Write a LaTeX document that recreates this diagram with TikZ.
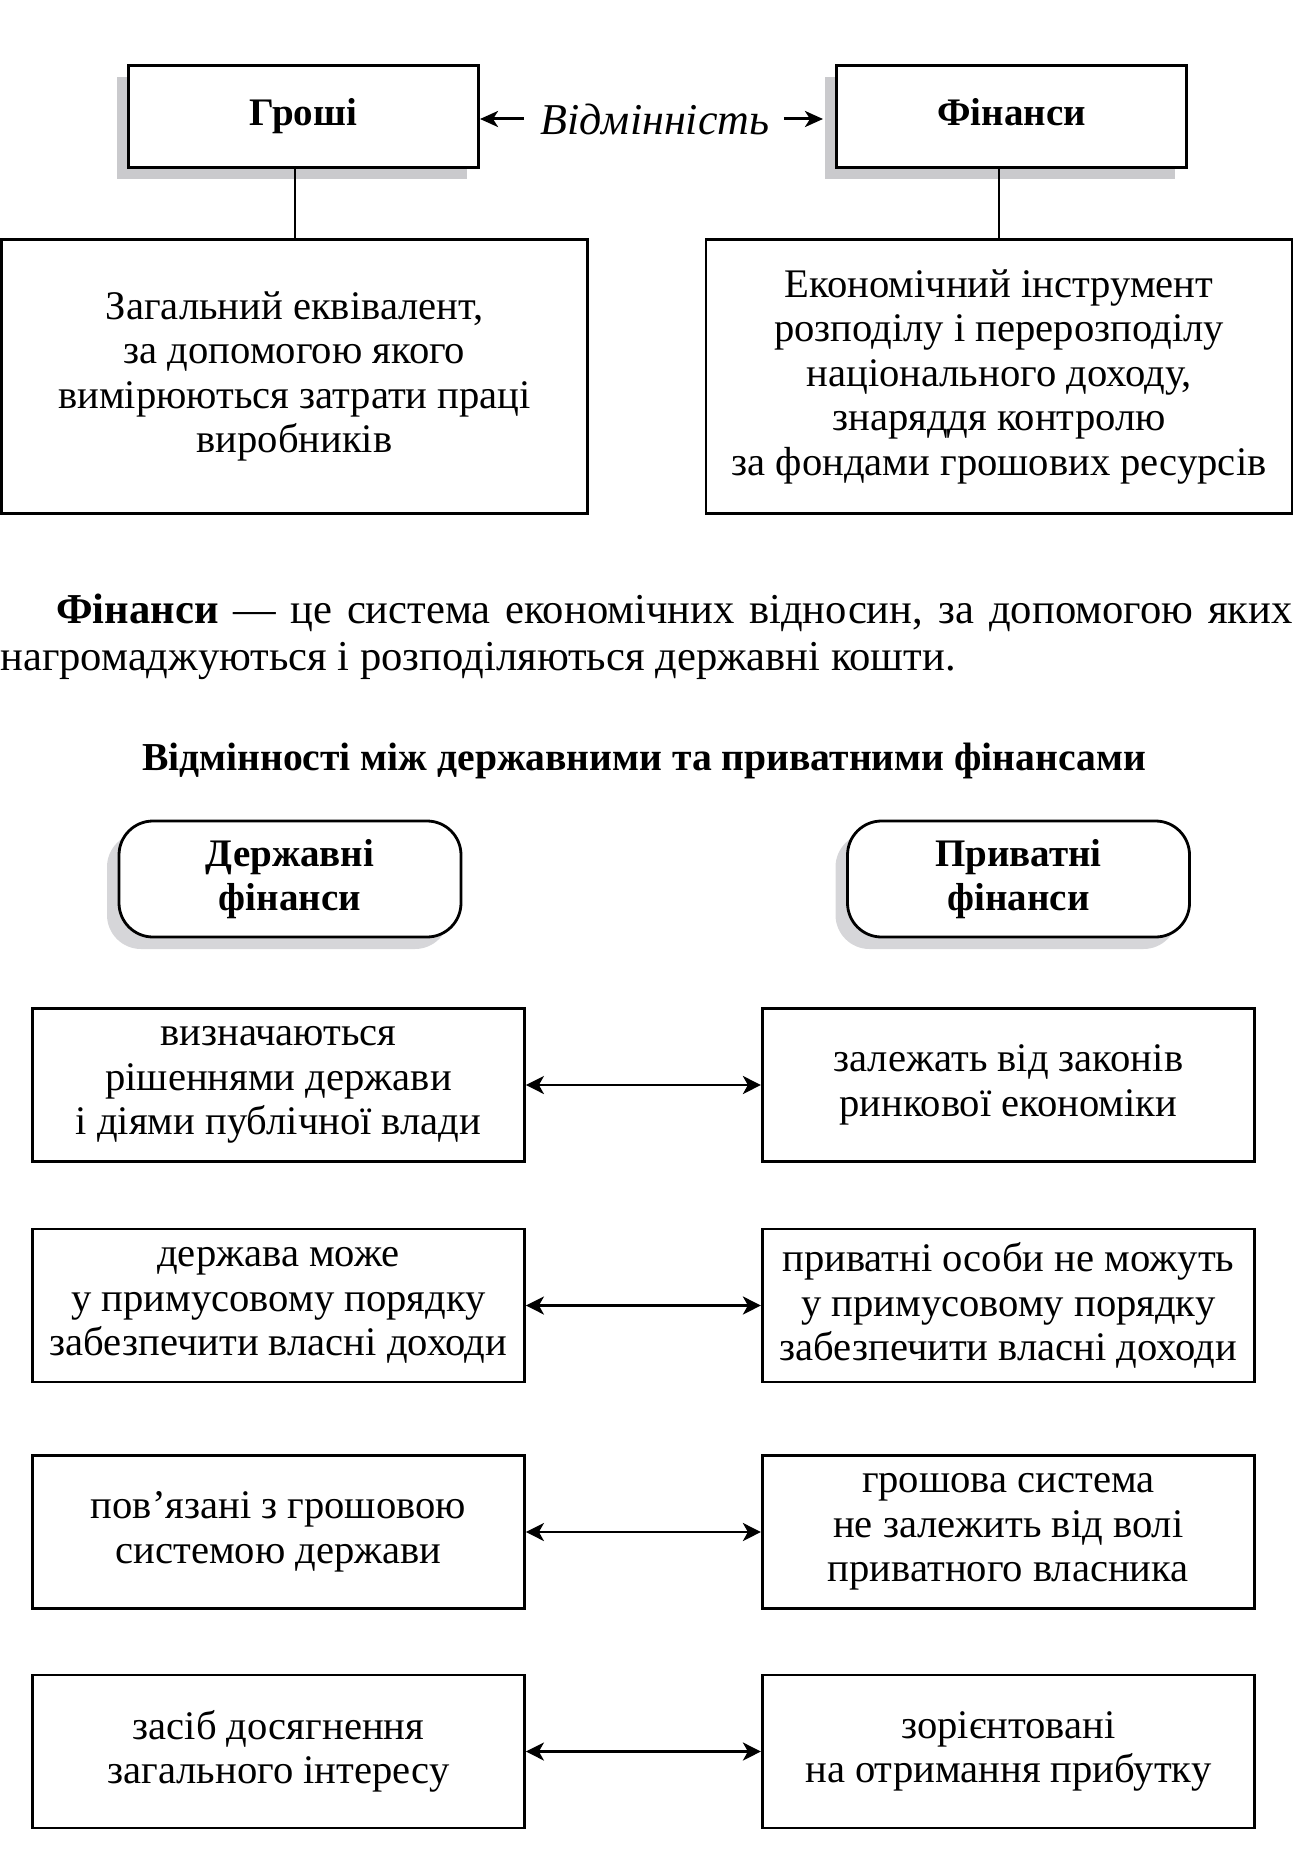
\documentclass[tikz,border=0pt]{standalone}
\usepackage{fontspec}
\setmainfont{Liberation Serif}
\usetikzlibrary{positioning}
\usetikzlibrary{arrows.meta}
\usetikzlibrary{shapes,shadows}
\definecolor{shadowgray}{RGB}{202,202,205}
\definecolor{softgray}{RGB}{214,214,217}
\newcommand{\boxfont}{\fontsize{20.3}{22.25}\selectfont}
\tikzset{
        treenode/.style={align=center,inner sep=0pt},
        % Heading boxes with a flat shadow
        node_head/.style={treenode, rectangle, draw=black, line width=1.5pt, fill=white, minimum width=175pt, minimum height=51pt, text height=13pt, text depth=4pt, font=\fontsize{19.5}{22.25}\selectfont\bfseries, drop shadow={shadow xshift=-6pt, shadow yshift=-6pt, fill=shadowgray, opacity=1}},
        % Definition boxes
        node_def/.style={treenode, rectangle, draw=black, line width=1.4pt, minimum width=293pt, minimum height=137pt, font=\boxfont},
        % Rounded boxes with a soft shadow
        node_kind/.style={treenode, rectangle, rounded corners=17pt, draw=black, line width=1.4pt, fill=white, minimum width=171pt, minimum height=58pt, font=\fontsize{19.5}{22.25}\selectfont\bfseries, drop shadow={shadow xshift=-6pt, shadow yshift=-6pt, fill=softgray, opacity=1}},
        % Feature boxes
        node_feat/.style={treenode, rectangle, draw=black, line width=1.4pt, minimum width=246pt, minimum height=76.5pt, font=\boxfont},
        % Connectors
        link/.style={line width=1pt},
        both/.style={line width=1.4pt, {Stealth[length=9pt,width=9pt,inset=2.5pt]}-{Stealth[length=9pt,width=9pt,inset=2.5pt]}}
}
\begin{document}
\begin{tikzpicture}[x=0.5pt, y=-0.5pt]
        \useasboundingbox (0,0) rectangle (1296,1862);
            % Money and finance
            \node[node_head] (groshi) at (303.5,116.5) {Гроші};
            \node[node_head] (finansy) at (1011.5,116.5) {Фінанси};
            \node[treenode, font=\fontsize{22}{24}\selectfont\itshape] (vidm) at (655,119) {Відмінність};
            \draw[line width=1.5pt, -{Stealth[length=9pt,width=8pt,inset=2.5pt]}] (vidm.west) ++(-8pt,0) -- (groshi.east |- vidm.west);
            \draw[line width=1.5pt, -{Stealth[length=9pt,width=8pt,inset=2.5pt]}] (vidm.east) ++(7pt,0) -- ([xshift=-6pt]finansy.west |- vidm.east);
            \node[node_def] (groshi_def) at (294.5,376.5) {Загальний еквівалент,\\за допомогою якого\\вимірюються затрати праці\\виробників};
            \node[node_def] (finansy_def) at (999,376.5) {Економічний інструмент\\розподілу і перерозподілу\\національного доходу,\\знаряддя контролю\\за фондами грошових ресурсів};
            \draw[link] (groshi_def.north) -- (groshi_def.north |- groshi.south);
            \draw[link] (finansy_def.north) -- (finansy_def.north |- finansy.south);
            % Definition
            \node[anchor=base west, inner sep=0pt, text width=646pt, align=justify, font=\fontsize{21.3}{23.5}\selectfont] (para) at (0,623) {\hspace*{28pt}\textbf{Фінанси} — це система економічних відносин, за допомогою яких\linebreak нагромаджуються і розподіляються державні кошти.};
            \node[anchor=base, inner sep=0pt, font=\fontsize{19.8}{22.25}\selectfont\bfseries] (title) at (644,770) {Відмінності між державними та приватними фінансами};
            % Public and private
            \node[node_kind] (derzh) at (290,879) {Державні\\фінанси};
            \node[node_kind] (pryv) at (1018.5,879) {Приватні\\фінанси};
            \node[node_feat] (pub1) at (278.5,1085) {визначаються\\рішеннями держави\\і діями публічної влади};
            \node[node_feat] (pub2) at (278.5,1305.5) {держава може\\у примусовому порядку\\забезпечити власні доходи};
            \node[node_feat] (pub3) at (278.5,1532) {пов’язані з грошовою\\системою держави};
            \node[node_feat] (pub4) at (278.5,1751.5) {засіб досягнення\\загального інтересу};
            \node[node_feat, right=117.5pt of pub1] (priv1) {залежать від законів\\ринкової економіки};
            \node[node_feat, right=117.5pt of pub2] (priv2) {приватні особи не можуть\\у примусовому порядку\\забезпечити власні доходи};
            \node[node_feat, right=117.5pt of pub3] (priv3) {грошова система\\не залежить від волі\\приватного власника};
            \node[node_feat, right=117.5pt of pub4] (priv4) {зорієнтовані\\на отримання прибутку};
            \draw[both] (pub1) -- (priv1);
            \draw[both] (pub2) -- (priv2);
            \draw[both] (pub3) -- (priv3);
            \draw[both] (pub4) -- (priv4);
        \end{tikzpicture}
\end{document}
